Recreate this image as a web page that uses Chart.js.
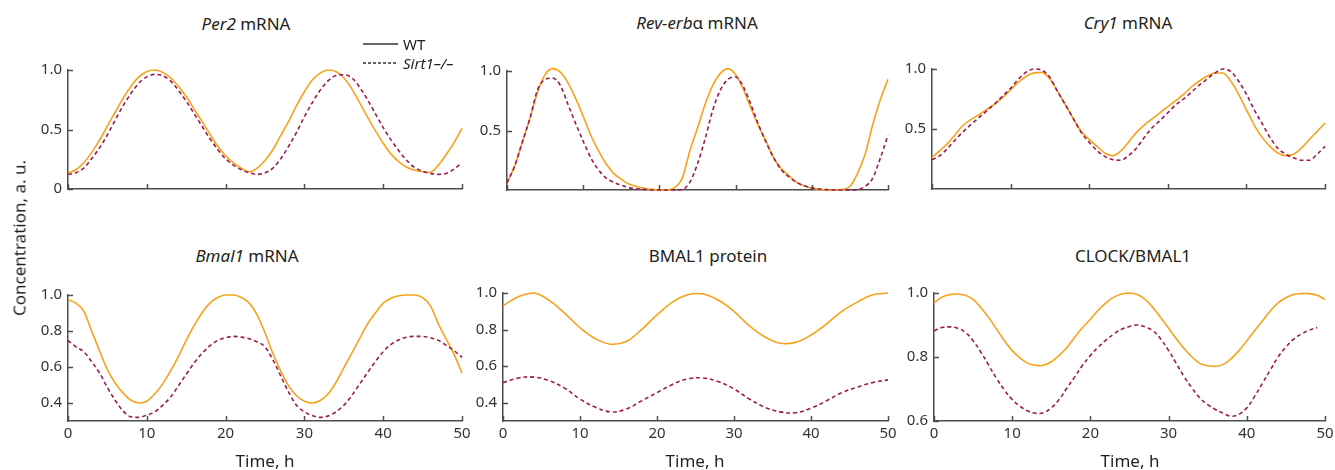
<!DOCTYPE html>
<html>
<head>
<meta charset="utf-8">
<script src="https://cdn.jsdelivr.net/npm/chart.js@4.4.1/dist/chart.umd.min.js"></script>
<style>
  body { margin: 0; background: #fff; font-family: 'Noto Sans', sans-serif; color: #231f20; }
  #stage { position: relative; width: 1335px; height: 470px; overflow: hidden; }
  canvas { position: absolute; }
  .lbl { position: absolute; transform: translate(-50%, -50%); white-space: nowrap; font-size: 17px; }
  .ylab { position: absolute; left: 19px; top: 238px; transform: translate(-50%, -50%) rotate(-90deg); white-space: nowrap; font-size: 17px; }
  .leg { position: absolute; font-size: 15px; white-space: nowrap; }
</style>
</head>
<body>
<div id="stage">
  <canvas id="per2"></canvas>
  <canvas id="reverb"></canvas>
  <canvas id="cry1"></canvas>
  <canvas id="bmal1"></canvas>
  <canvas id="bmalProt"></canvas>
  <canvas id="clockBmal"></canvas>

  <div class="lbl" style="left:246px;top:23px"><i>Per2</i> mRNA</div>
  <div class="lbl" style="left:697px;top:22px"><i>Rev-erb</i>α mRNA</div>
  <div class="lbl" style="left:1128px;top:22px"><i>Cry1</i> mRNA</div>
  <div class="lbl" style="left:247px;top:255px"><i>Bmal1</i> mRNA</div>
  <div class="lbl" style="left:708px;top:255px">BMAL1 protein</div>
  <div class="lbl" style="left:1133px;top:255px">CLOCK/BMAL1</div>

  <div class="lbl" style="left:265px;top:460px">Time, h</div>
  <div class="lbl" style="left:695px;top:460px">Time, h</div>
  <div class="lbl" style="left:1130px;top:460px">Time, h</div>
  <div class="ylab">Concentration, a. u.</div>

  <!-- legend -->
  <svg class="leg" style="left:363px;top:38px" width="36" height="30">
    <line x1="0" y1="6" x2="35" y2="6" stroke="#333" stroke-width="1.3"/>
    <line x1="0" y1="25" x2="35" y2="25" stroke="#333" stroke-width="1.3" stroke-dasharray="3,2"/>
  </svg>
  <div class="leg" style="left:403px;top:34px">WT</div>
  <div class="leg" style="left:403px;top:53px"><i>Sirt1–/–</i></div>
</div>

<script>
// warna
const axisColor = '#4d4d4d';
const tickColor = '#333333';
const wtColor = '#f7a21b';
const koColor = '#9b1b4c';

// waktu (jam)
const hours2 = [0, 2, 4, 6, 8, 10, 12, 14, 16, 18, 20, 22, 24, 26, 28, 30, 32, 34, 36, 38, 40, 42, 44, 46, 48, 50];
const hours1 = [0, 1, 2, 3, 4, 5, 6, 7, 8, 9, 10, 11, 12, 13, 14, 15, 16, 17, 18, 19, 20, 21, 22, 23, 24, 25,
  26, 27, 28, 29, 30, 31, 32, 33, 34, 35, 36, 37, 38, 39, 40, 41, 42, 43, 44, 45, 46, 47, 48, 49, 50];
const xTicks = [0, 10, 20, 30, 40, 50];

// Per2 mRNA (per jam)
const per2WT = [0.136, 0.162, 0.22, 0.306, 0.41, 0.53, 0.647, 0.764, 0.864, 0.942, 0.987,
  1.0, 0.98, 0.935, 0.864, 0.777, 0.673, 0.568, 0.463, 0.359, 0.28,
  0.22, 0.175, 0.144, 0.175, 0.24, 0.33, 0.45, 0.568, 0.70, 0.817,
  0.916, 0.974, 1.0, 0.987, 0.935, 0.843, 0.725, 0.607, 0.49, 0.385,
  0.293, 0.228, 0.183, 0.157, 0.145, 0.141, 0.20, 0.29, 0.39, 0.51];
const per2KO = [0.123, 0.136, 0.175, 0.254, 0.346, 0.455, 0.58, 0.70, 0.804, 0.89, 0.942,
  0.963, 0.953, 0.908, 0.83, 0.738, 0.634, 0.529, 0.424, 0.332, 0.254,
  0.20, 0.162, 0.136, 0.123, 0.136, 0.175, 0.254, 0.359, 0.476, 0.607,
  0.725, 0.83, 0.908, 0.953, 0.96, 0.935, 0.856, 0.751, 0.634, 0.516,
  0.411, 0.32, 0.24, 0.18, 0.15, 0.131, 0.123, 0.131, 0.168, 0.22];

// Rev-erb alpha mRNA (per jam)
const revWT = [0.06, 0.20, 0.40, 0.60, 0.82, 0.97, 1.02, 0.99, 0.90, 0.77, 0.62,
  0.46, 0.33, 0.22, 0.14, 0.09, 0.05, 0.03, 0.015, 0.005, 0,
  0.002, 0.02, 0.10, 0.33, 0.52, 0.72, 0.88, 0.98, 1.02, 0.97,
  0.85, 0.69, 0.54, 0.41, 0.27, 0.18, 0.12, 0.065, 0.035, 0.015,
  0.005, 0, 0, 0.005, 0.03, 0.14, 0.30, 0.55, 0.76, 0.93];
const revKO = [0.06, 0.20, 0.40, 0.60, 0.84, 0.93, 0.94, 0.88, 0.72, 0.56, 0.41,
  0.27, 0.17, 0.10, 0.065, 0.04, 0.02, 0.01, 0.005, 0, 0,
  0, 0, 0.005, 0.065, 0.22, 0.43, 0.67, 0.84, 0.93, 0.95,
  0.87, 0.72, 0.55, 0.40, 0.27, 0.17, 0.11, 0.065, 0.035, 0.018,
  0.008, 0.003, 0, 0, 0, 0.005, 0.03, 0.10, 0.27, 0.46];

// Cry1 mRNA (per jam)
const cry1WT = [0.265, 0.32, 0.38, 0.457, 0.533, 0.58, 0.62, 0.666, 0.71, 0.763, 0.827,
  0.89, 0.94, 0.968, 0.972, 0.916, 0.81, 0.70, 0.584, 0.48, 0.413,
  0.355, 0.30, 0.278, 0.316, 0.39, 0.47, 0.533, 0.584, 0.635, 0.686,
  0.737, 0.788, 0.85, 0.90, 0.94, 0.967, 0.967, 0.90, 0.79, 0.66,
  0.533, 0.43, 0.355, 0.30, 0.278, 0.29, 0.34, 0.413, 0.48, 0.55];
const cry1KO = [0.245, 0.278, 0.34, 0.413, 0.48, 0.54, 0.597, 0.653, 0.71, 0.775, 0.84,
  0.916, 0.975, 1.0, 0.99, 0.93, 0.81, 0.70, 0.584, 0.47, 0.39,
  0.32, 0.27, 0.245, 0.24, 0.278, 0.34, 0.43, 0.51, 0.57, 0.635,
  0.70, 0.75, 0.806, 0.865, 0.916, 0.967, 1.0, 0.98, 0.90, 0.79,
  0.66, 0.546, 0.43, 0.34, 0.29, 0.26, 0.24, 0.24, 0.29, 0.355];

// Bmal1 mRNA (per jam)
const bmal1WT = [0.973, 0.955, 0.91, 0.80, 0.69, 0.585, 0.51, 0.455, 0.415, 0.40, 0.41,
  0.45, 0.505, 0.577, 0.658, 0.748, 0.83, 0.90, 0.955, 0.986, 1.0,
  1.0, 0.986, 0.955, 0.89, 0.79, 0.676, 0.577, 0.495, 0.44, 0.41,
  0.40, 0.414, 0.45, 0.514, 0.595, 0.676, 0.757, 0.838, 0.90, 0.955,
  0.982, 0.996, 1.0, 1.0, 0.985, 0.94, 0.84, 0.755, 0.67, 0.565];
const bmal1KO = [0.748, 0.712, 0.685, 0.63, 0.567, 0.486, 0.414, 0.355, 0.323, 0.32, 0.333,
  0.35, 0.387, 0.432, 0.495, 0.559, 0.622, 0.676, 0.717, 0.748, 0.762,
  0.77, 0.766, 0.757, 0.74, 0.712, 0.64, 0.55, 0.46, 0.387, 0.351,
  0.33, 0.32, 0.328, 0.351, 0.387, 0.441, 0.505, 0.568, 0.63, 0.685,
  0.726, 0.751, 0.766, 0.77, 0.77, 0.762, 0.748, 0.72, 0.69, 0.654];

// BMAL1 protein (tiap 2 jam)
const protWT = [0.93, 0.98, 1.0, 0.96, 0.89, 0.81, 0.75, 0.72, 0.735, 0.80, 0.88, 0.95, 0.99, 0.995, 0.96, 0.90, 0.82, 0.76, 0.725, 0.73, 0.77, 0.83, 0.90, 0.95, 0.99, 1.0];
const protKO = [0.51, 0.535, 0.54, 0.52, 0.48, 0.42, 0.375, 0.35, 0.365, 0.41, 0.455, 0.50, 0.53, 0.535, 0.515, 0.475, 0.42, 0.375, 0.35, 0.345, 0.37, 0.41, 0.455, 0.485, 0.51, 0.525];

// CLOCK/BMAL1 (per jam; kurva Sirt1 berhenti di 49 jam)
const clockWT = [0.969, 0.987, 0.995, 0.997, 0.993, 0.98, 0.954, 0.923, 0.887, 0.851, 0.82,
  0.797, 0.78, 0.774, 0.774, 0.785, 0.805, 0.83, 0.862, 0.892, 0.918,
  0.946, 0.969, 0.987, 0.997, 1.0, 0.995, 0.98, 0.954, 0.923, 0.89,
  0.856, 0.826, 0.80, 0.78, 0.773, 0.771, 0.777, 0.795, 0.82, 0.851,
  0.882, 0.913, 0.944, 0.969, 0.985, 0.995, 0.998, 0.998, 0.993, 0.98];
const clockKO = [0.882, 0.892, 0.894, 0.89, 0.877, 0.851, 0.815, 0.774, 0.733, 0.697, 0.667,
  0.646, 0.631, 0.624, 0.626, 0.641, 0.667, 0.703, 0.738, 0.774, 0.805,
  0.831, 0.853, 0.872, 0.887, 0.895, 0.90, 0.894, 0.882, 0.856, 0.82,
  0.779, 0.738, 0.703, 0.672, 0.651, 0.636, 0.624, 0.615, 0.621, 0.641,
  0.677, 0.718, 0.759, 0.80, 0.831, 0.856, 0.872, 0.884, 0.892];

// tick sumbu y
const yTicksPer2 = [0, 0.5, 1.0];
const yTicksHalf = [0.5, 1.0];
const yTicksLow = [0.4, 0.6, 0.8, 1.0];
const yTicksClock = [0.6, 0.8, 1.0];

// tick kecil ke arah dalam
const inwardTicks = {
  id: 'inwardTicks',
  afterDatasetsDraw(chart) {
    const { ctx, chartArea, scales } = chart;
    ctx.save();
    ctx.strokeStyle = axisColor;
    ctx.lineWidth = 1.5;
    scales.x.ticks.forEach(tk => {
      const px = Math.round(scales.x.getPixelForValue(tk.value)) + 0.5;
      ctx.beginPath();
      ctx.moveTo(px, chartArea.bottom);
      ctx.lineTo(px, chartArea.bottom - 5);
      ctx.stroke();
    });
    scales.y.ticks.forEach(tk => {
      const py = Math.round(scales.y.getPixelForValue(tk.value)) + 0.5;
      ctx.beginPath();
      ctx.moveTo(chartArea.left, py);
      ctx.lineTo(chartArea.left + 5, py);
      ctx.stroke();
    });
    ctx.restore();
  }
};

function toPoints(time, vals) {
  return vals.map((v, i) => ({ x: time[i], y: v }));
}

function buildPanel(id, box, time, wt, ko, yMin, yMax, yTicks, showX, mode) {
  const cv = document.getElementById(id);
  const padL = 50, padT = 12, padR = 16, padB = showX ? 30 : 10;
  cv.width = box.r - box.l + padL + padR;
  cv.height = box.b - box.t + padT + padB;
  cv.style.left = (box.l - padL) + 'px';
  cv.style.top = (box.t - padT) + 'px';

  const tickFont = { family: "'Noto Sans', sans-serif", size: 15 };
  const lineBase = {
    borderWidth: 1.6,
    pointRadius: 0,
    cubicInterpolationMode: mode,
    tension: 0.4,
    clip: false,
    fill: false
  };

  return new Chart(cv, {
    type: 'line',
    data: {
      datasets: [
        Object.assign({ label: 'Sirt1–/–', data: toPoints(time, ko), borderColor: koColor, borderDash: [4, 3] }, lineBase),
        Object.assign({ label: 'WT', data: toPoints(time, wt), borderColor: wtColor }, lineBase)
      ]
    },
    options: {
      responsive: false,
      animation: false,
      devicePixelRatio: 1,
      layout: { padding: { left: 0, top: padT, right: padR, bottom: 0 } },
      plugins: { legend: { display: false }, tooltip: { enabled: false } },
      scales: {
        x: {
          type: 'linear',
          min: 0,
          max: 50,
          afterBuildTicks: s => { s.ticks = xTicks.map(v => ({ value: v })); },
          afterFit: s => { s.height = padB; },
          grid: { display: false, drawTicks: false },
          border: { display: true, color: axisColor, width: 1.5 },
          ticks: { display: showX, font: tickFont, color: tickColor, padding: 4, maxRotation: 0, autoSkip: false }
        },
        y: {
          min: yMin,
          max: yMax,
          afterBuildTicks: s => { s.ticks = yTicks.map(v => ({ value: v })); },
          afterFit: s => { s.width = padL; },
          grid: { display: false, drawTicks: false },
          border: { display: true, color: axisColor, width: 1.5 },
          ticks: {
            font: tickFont,
            color: tickColor,
            padding: 6,
            callback: v => (v === 0 ? '0' : v.toFixed(1))
          }
        }
      }
    },
    plugins: [inwardTicks]
  });
}

document.addEventListener('DOMContentLoaded', function() {
  buildPanel('per2', { l: 68, r: 462, t: 67, b: 194 }, hours1, per2WT, per2KO, 0, 1, yTicksPer2, false, 'monotone');
  buildPanel('reverb', { l: 507, r: 888, t: 68, b: 195 }, hours1, revWT, revKO, 0, 1, yTicksHalf, false, 'monotone');
  buildPanel('cry1', { l: 932, r: 1325, t: 66, b: 194 }, hours1, cry1WT, cry1KO, 0, 1, yTicksHalf, false, 'monotone');
  buildPanel('bmal1', { l: 68, r: 462, t: 292, b: 421 }, hours1, bmal1WT, bmal1KO, 0.3, 1, yTicksLow, true, 'monotone');
  buildPanel('bmalProt', { l: 503, r: 888, t: 290, b: 421 }, hours2, protWT, protKO, 0.3, 1, yTicksLow, true, 'default');
  buildPanel('clockBmal', { l: 934, r: 1325, t: 290, b: 421 }, hours1, clockWT, clockKO, 0.6, 1, yTicksClock, true, 'default');
});
</script>
</body>
</html>
